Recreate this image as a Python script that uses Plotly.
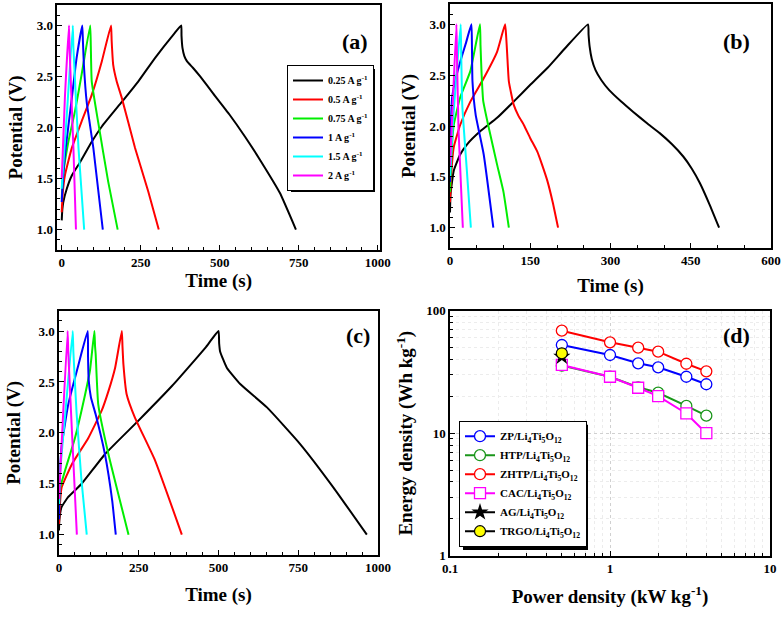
import plotly.graph_objects as go

# ---------------- Panel (a) data ----------------
a_black_t = [0, 2, 5, 16, 32, 58, 95, 127, 190, 242, 295, 356, 378, 379, 382, 388, 396, 415, 438, 480, 530, 580, 630, 690, 741]
a_black_v = [1.09, 1.20, 1.27, 1.40, 1.53, 1.66, 1.86, 2.01, 2.25, 2.45, 2.68, 2.92, 3.00, 2.90, 2.78, 2.70, 2.65, 2.585, 2.50, 2.33, 2.13, 1.91, 1.67, 1.36, 1.00]
a_red_t = [0, 3, 10, 32, 63, 95, 127, 156, 158, 163, 174, 190, 232, 274, 307]
a_red_v = [1.17, 1.35, 1.53, 1.80, 2.06, 2.32, 2.65, 3.00, 2.85, 2.61, 2.45, 2.29, 1.80, 1.37, 1.00]
a_green_t = [0, 5, 21, 42, 63, 90, 92, 95, 116, 147, 177]
a_green_v = [1.30, 1.55, 1.86, 2.16, 2.52, 3.00, 2.80, 2.45, 2.04, 1.47, 1.00]
a_blue_t = [0, 3, 10, 32, 47, 65, 67, 70, 79, 100, 130]
a_blue_v = [1.27, 1.45, 1.73, 2.29, 2.68, 3.00, 2.85, 2.62, 2.25, 1.80, 1.00]
a_cyan_t = [0, 3, 16, 35, 37, 53, 71]
a_cyan_v = [1.40, 1.55, 2.12, 3.00, 2.78, 1.80, 1.00]
a_mag_t = [0, 10, 23, 25, 37, 45]
a_mag_v = [1.50, 2.29, 3.00, 2.75, 1.80, 1.00]

# ---------------- Panel (b) data ----------------
b_black_t = [0, 1, 7, 19, 32, 57, 88, 119, 151, 182, 216, 258, 259, 261, 265, 272, 283, 298, 320, 342, 370, 392, 415, 436, 452, 467, 485, 503]
b_black_v = [1.15, 1.33, 1.56, 1.72, 1.82, 1.95, 2.08, 2.24, 2.41, 2.57, 2.77, 3.00, 2.90, 2.78, 2.66, 2.55, 2.45, 2.35, 2.24, 2.14, 2.02, 1.93, 1.82, 1.70, 1.58, 1.44, 1.23, 1.00]
b_red_t = [0, 2, 7, 19, 38, 63, 88, 103, 105, 107, 110, 119, 128, 138, 150, 163, 172, 182, 192, 202]
b_red_v = [1.25, 1.50, 1.79, 2.01, 2.24, 2.47, 2.73, 3.00, 2.88, 2.70, 2.44, 2.21, 2.10, 2.01, 1.88, 1.75, 1.62, 1.46, 1.25, 1.00]
b_green_t = [0, 3, 7, 19, 38, 56, 57, 59, 62, 73, 88, 100, 110]
b_green_v = [1.35, 1.75, 2.01, 2.28, 2.54, 3.00, 2.80, 2.52, 2.25, 1.97, 1.62, 1.35, 1.00]
b_blue_t = [0, 1, 4, 10, 19, 30, 40, 41, 42, 48, 63, 81]
b_blue_v = [1.45, 1.90, 2.28, 2.45, 2.63, 2.82, 3.00, 2.80, 2.44, 2.11, 1.72, 1.00]
b_cyan_t = [0, 5, 12, 20, 21, 23, 31, 39]
b_cyan_v = [1.50, 2.00, 2.50, 3.00, 2.70, 2.20, 1.60, 1.00]
b_mag_t = [0, 5, 12, 13, 16, 24]
b_mag_v = [1.60, 2.20, 3.00, 2.70, 1.95, 1.00]

# ---------------- Panel (c) data ----------------
c_black_t = [0, 1, 8, 29, 71, 144, 249, 354, 427, 460, 500, 502, 505, 526, 568, 652, 756, 861, 965]
c_black_v = [1.04, 1.14, 1.27, 1.37, 1.50, 1.79, 2.12, 2.46, 2.72, 2.84, 3.00, 2.88, 2.80, 2.64, 2.48, 2.25, 1.89, 1.46, 1.00]
c_red_t = [0, 3, 8, 40, 92, 134, 155, 176, 197, 199, 202, 212, 238, 301, 385]
c_red_v = [1.10, 1.30, 1.46, 1.69, 1.95, 2.22, 2.41, 2.64, 3.00, 2.85, 2.67, 2.38, 2.15, 1.73, 1.00]
c_green_t = [0, 3, 19, 50, 82, 97, 111, 113, 115, 123, 155, 218]
c_green_v = [1.25, 1.45, 1.63, 1.95, 2.38, 2.61, 3.00, 2.85, 2.77, 2.28, 1.79, 1.00]
c_blue_t = [0, 2, 8, 29, 61, 90, 91, 93, 100, 115, 144, 167, 173, 178]
c_blue_v = [1.15, 1.50, 1.86, 2.28, 2.67, 3.00, 2.75, 2.52, 2.35, 2.18, 1.79, 1.33, 1.15, 1.00]
c_cyan_t = [0, 3, 20, 43, 45, 55, 70, 87]
c_cyan_v = [1.30, 1.60, 2.20, 3.00, 2.80, 2.20, 1.55, 1.00]
c_mag_t = [0, 10, 27, 29, 40, 56]
c_mag_v = [1.35, 2.00, 3.00, 2.80, 2.05, 1.00]

# ---------------- Panel (d) data ----------------
d_power = [0.5, 1, 1.5, 2, 3, 4]
d_zp = [52.5, 43.5, 37.2, 34.5, 28.9, 25.1]
d_htp = [35.6, 28.9, 23.7, 21.4, 16.7, 13.9]
d_zhtp = [68.7, 55.2, 49.9, 46.3, 36.9, 32.0]
d_cac = [36.1, 28.9, 23.5, 20.1, 14.5, 10.0]
d_ag_power = [0.5]
d_ag = [42.2]
d_trgo_power = [0.5]
d_trgo = [44.9]

rate_labels = ["0.25 A g<sup>-1</sup>", "0.5 A g<sup>-1</sup>", "0.75 A g<sup>-1</sup>",
               "1 A g<sup>-1</sup>", "1.5 A g<sup>-1</sup>", "2 A g<sup>-1</sup>"]
rate_colors = ["#000000", "#ff0000", "#00ee00", "#0000ff", "#00ffff", "#ff00ff"]
sub = "Li<sub>4</sub>Ti<sub>5</sub>O<sub>12</sub>"
d_labels = ["ZP/" + sub, "HTP/" + sub, "ZHTP/" + sub, "CAC/" + sub, "AG/" + sub, "TRGO/" + sub]

W, H = 784, 617
FONT = "Liberation Serif"


def px_x(p):
    return p / W


def px_y(p):
    return 1 - p / H


fig = go.Figure()

panels = [
    ("x", "y", [(a_black_t, a_black_v), (a_red_t, a_red_v), (a_green_t, a_green_v),
                (a_blue_t, a_blue_v), (a_cyan_t, a_cyan_v), (a_mag_t, a_mag_v)], True),
    ("x2", "y2", [(b_black_t, b_black_v), (b_red_t, b_red_v), (b_green_t, b_green_v),
                  (b_blue_t, b_blue_v), (b_cyan_t, b_cyan_v), (b_mag_t, b_mag_v)], False),
    ("x3", "y3", [(c_black_t, c_black_v), (c_red_t, c_red_v), (c_green_t, c_green_v),
                  (c_blue_t, c_blue_v), (c_cyan_t, c_cyan_v), (c_mag_t, c_mag_v)], False),
]
for xa, ya, curves, show in panels:
    for i, (t, v) in enumerate(curves):
        fig.add_trace(go.Scatter(
            x=t, y=v, mode="lines", xaxis=xa, yaxis=ya,
            line=dict(color=rate_colors[i], width=2, shape="spline", smoothing=0.4),
            name=rate_labels[i], showlegend=show, legend="legend"))

d_series = [
    (d_power, d_zp, "#0000ff", "circle"),
    (d_power, d_htp, "#1a961a", "circle"),
    (d_power, d_zhtp, "#ff0000", "circle"),
    (d_power, d_cac, "#ff00ff", "square"),
]
for i, (xx, yy, col, sym) in enumerate(d_series):
    fig.add_trace(go.Scatter(
        x=xx, y=yy, mode="lines+markers", xaxis="x4", yaxis="y4",
        line=dict(color=col, width=2),
        marker=dict(symbol=sym, size=11, color="white", line=dict(color=col, width=1.3)),
        name=d_labels[i], legend="legend2"))
fig.add_trace(go.Scatter(
    x=d_ag_power, y=d_ag, mode="lines+markers", xaxis="x4", yaxis="y4",
    line=dict(color="black", width=2),
    marker=dict(symbol="star", size=13, color="black"),
    name=d_labels[4], legend="legend2"))
fig.add_trace(go.Scatter(
    x=d_trgo_power, y=d_trgo, mode="lines+markers", xaxis="x4", yaxis="y4",
    line=dict(color="black", width=2),
    marker=dict(symbol="circle", size=11, color="#ffff00", line=dict(color="black", width=1.2)),
    name=d_labels[5], legend="legend2"))


def axis_style(**kw):
    base = dict(showline=True, linecolor="black", linewidth=1.5, mirror=True,
                ticks="inside", ticklen=5, tickwidth=1.3, tickcolor="black",
                showgrid=False, zeroline=False, automargin=False,
                ticklabeloverflow="allow",
                tickfont=dict(family=FONT, size=13, color="black", weight="bold"))
    base.update(kw)
    return base


ttl_font = dict(family=FONT, size=19, color="black", weight="bold")

layout = dict(
    width=W, height=H, margin=dict(l=0, r=0, t=0, b=0),
    paper_bgcolor="white", plot_bgcolor="white",
    font=dict(family=FONT, color="black", weight="bold"),
    xaxis=axis_style(domain=[px_x(57.3), px_x(380)], anchor="y", range=[-14, 1007],
                     tickvals=[0, 250, 500, 750, 1000],
                     minor=dict(ticks="inside", ticklen=3, dtick=50, tick0=0, tickcolor="black"),
                     title=dict(text="Time (s)", font=ttl_font, standoff=4)),
    yaxis=axis_style(domain=[px_y(250), px_y(5)], anchor="x", range=[0.8, 3.2],
                     tickvals=[1.0, 1.5, 2.0, 2.5, 3.0], tickformat=".1f",
                     minor=dict(ticks="inside", ticklen=3, dtick=0.1, tick0=0, tickcolor="black"),
                     title=dict(text="Potential (V)", font=ttl_font, standoff=9)),
    xaxis2=axis_style(domain=[px_x(450), px_x(771)], anchor="y2", range=[0, 600],
                      tickvals=[0, 150, 300, 450, 600],
                      minor=dict(ticks="inside", ticklen=3, dtick=50, tick0=0, tickcolor="black"),
                      title=dict(text="Time (s)", font=ttl_font, standoff=11)),
    yaxis2=axis_style(domain=[px_y(248), px_y(4)], anchor="x2", range=[0.8, 3.2],
                      tickvals=[1.0, 1.5, 2.0, 2.5, 3.0], tickformat=".1f",
                      minor=dict(ticks="inside", ticklen=3, dtick=0.1, tick0=0, tickcolor="black"),
                      title=dict(text="Potential (V)", font=ttl_font, standoff=9)),
    xaxis3=axis_style(domain=[px_x(59), px_x(378)], anchor="y3", range=[0, 1000],
                      tickvals=[0, 250, 500, 750, 1000],
                      minor=dict(ticks="inside", ticklen=3, dtick=50, tick0=0, tickcolor="black"),
                      title=dict(text="Time (s)", font=ttl_font, standoff=13)),
    yaxis3=axis_style(domain=[px_y(555), px_y(310.7)], anchor="x3", range=[0.8, 3.2],
                      tickvals=[1.0, 1.5, 2.0, 2.5, 3.0], tickformat=".1f",
                      minor=dict(ticks="inside", ticklen=3, dtick=0.1, tick0=0, tickcolor="black"),
                      title=dict(text="Potential (V)", font=ttl_font, standoff=13)),
    xaxis4=axis_style(domain=[px_x(450), px_x(770)], anchor="y4", type="log", range=[-1, 1],
                      tickvals=[0.1, 1, 10], ticktext=["0.1", "1", "10"],
                      showgrid=True, gridcolor="#d0d0d0", griddash="dot", gridwidth=1,
                      minor=dict(ticks="inside", ticklen=3, dtick="D1", tickcolor="black",
                                 showgrid=True, gridcolor="#ececec", gridwidth=1),
                      title=dict(text="Power density (kW kg<sup>-1</sup>)", font=ttl_font, standoff=15)),
    yaxis4=axis_style(domain=[px_y(555.7), px_y(310.7)], anchor="x4", type="log", range=[0, 2],
                      tickvals=[1, 10, 100], ticktext=["1", "10", "100"],
                      showgrid=True, gridcolor="#d0d0d0", griddash="dot", gridwidth=1,
                      minor=dict(ticks="inside", ticklen=3, dtick="D1", tickcolor="black",
                                 showgrid=True, gridcolor="#ececec", gridwidth=1),
                      title=dict(text="Energy density (Wh kg<sup>-1</sup>)", font=ttl_font, standoff=8)),
    legend=dict(x=px_x(287), y=px_y(65), xanchor="left", yanchor="top",
                bgcolor="white", bordercolor="black", borderwidth=1,
                font=dict(family=FONT, size=10, color="black", weight="bold"),
                tracegroupgap=0, itemwidth=30),
    legend2=dict(x=px_x(459), y=px_y(420.7), xanchor="left", yanchor="top",
                 bgcolor="white", bordercolor="black", borderwidth=1,
                 font=dict(family=FONT, size=11, color="black", weight="bold"),
                 tracegroupgap=0, itemwidth=30),
    annotations=[
        dict(text="(a)", x=px_x(355), y=px_y(27), xref="paper", yref="paper", showarrow=False,
             font=dict(family=FONT, size=22, color="black", weight="bold")),
        dict(text="(b)", x=px_x(752), y=px_y(27), xref="paper", yref="paper", showarrow=False,
             font=dict(family=FONT, size=22, color="black", weight="bold")),
        dict(text="(c)", x=px_x(358), y=px_y(335), xref="paper", yref="paper", showarrow=False,
             font=dict(family=FONT, size=22, color="black", weight="bold")),
        dict(text="(d)", x=px_x(752), y=px_y(336), xref="paper", yref="paper", showarrow=False,
             font=dict(family=FONT, size=22, color="black", weight="bold")),
    ],
    shapes=[
        dict(type="rect", xref="paper", yref="paper", layer="above",
             x0=px_x(291), x1=px_x(375), y0=px_y(192), y1=px_y(69),
             fillcolor="black", line=dict(width=0)),
        dict(type="rect", xref="paper", yref="paper", layer="above",
             x0=px_x(463), x1=px_x(588), y0=px_y(550), y1=px_y(424.7),
             fillcolor="black", line=dict(width=0)),
    ],
)
fig.update_layout(**layout)
fig.write_html("out.html", config={"displayModeBar": False},
               post_script="document.body.style.margin='0px';document.body.style.padding='0px';")
